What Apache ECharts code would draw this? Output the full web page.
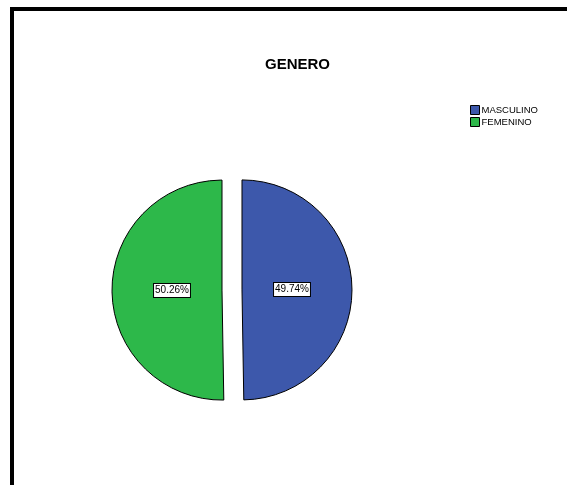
<!DOCTYPE html>
<html>
<head>
<meta charset="utf-8">
<script src="https://cdn.jsdelivr.net/npm/echarts@6/dist/echarts.min.js"></script>
<style>
    html, body { margin: 0; padding: 0; background: #fff; }
    #chart { width: 567px; height: 485px; }
</style>
</head>
<body>
<div id="chart"></div>
<script>
    // datos del grafico
    var categorias = ['MASCULINO', 'FEMENINO'];
    var porcentajes = [49.74, 50.26];
    var colores = ['#3d58ab', '#2db84a'];

    var myChart = echarts.init(document.getElementById('chart'));

    var datos = categorias.map(function (c, i) {
        return { name: c, value: porcentajes[i], selected: true, itemStyle: { color: colores[i] } };
    });

    var option = {
        animation: false,
        title: {
            text: 'GENERO',
            left: 260,
            top: 52,
            textStyle: { fontFamily: 'Liberation Sans, Arial', fontSize: 15, fontWeight: 'bold', color: '#000' }
        },
        legend: {
            orient: 'vertical',
            left: 465,
            top: 100,
            itemWidth: 9,
            itemHeight: 9,
            itemGap: 2,
            icon: 'rect',
            selectedMode: false,
            itemStyle: { borderColor: '#000', borderWidth: 1 },
            textStyle: { fontFamily: 'Liberation Sans, Arial', fontSize: 9.5, color: '#000', padding: [0, 0, 0, -3] },
            data: categorias
        },
        graphic: [
            { type: 'rect', shape: { x: 10, y: 7, width: 557, height: 4 }, style: { fill: '#000' } },
            { type: 'rect', shape: { x: 10, y: 7, width: 4, height: 478 }, style: { fill: '#000' } }
        ],
        series: [{
            type: 'pie',
            center: [232, 290],
            radius: [0, 110],
            startAngle: 90,
            clockwise: true,
            selectedMode: 'multiple',
            selectedOffset: 10,
            data: datos,
            itemStyle: { borderColor: '#000', borderWidth: 1 },
            emphasis: { disabled: true },
            label: {
                position: 'inner',
                formatter: function (p) { return p.value.toFixed(2) + '%'; },
                fontFamily: 'Liberation Sans, Arial',
                fontSize: 10,
                color: '#000',
                backgroundColor: '#fff',
                borderColor: '#000',
                borderWidth: 1,
                padding: [2, 1, 1, 1]
            },
            // etiquetas un poco mas cerca del centro, como en el original
            labelLayout: function (p) {
                return { dx: p.dataIndex === 0 ? -8 : 8 };
            },
            labelLine: { show: false }
        }]
    };

    myChart.setOption(option);
</script>
</body>
</html>
